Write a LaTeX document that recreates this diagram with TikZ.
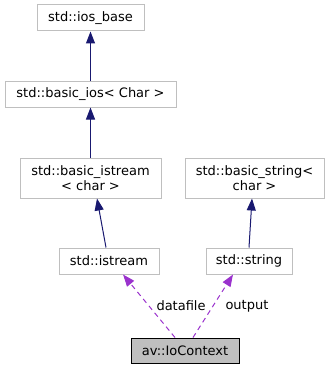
\documentclass[tikz,border=0pt]{standalone}
\usepackage{fontspec}
\setmainfont{DejaVu Sans}
\usetikzlibrary{arrows.meta}
\definecolor{edgeblue}{HTML}{191970}
\definecolor{edgepurple}{HTML}{9A32CD}
\definecolor{boxgray}{HTML}{BFBFBF}
\tikzset{txt/.style={font=\fontsize{13}{15}\selectfont}}
\begin{document}
\begin{tikzpicture}[x=1pt,y=-1pt,
  cls/.style={draw=boxgray, line width=1pt, fill=white, inner sep=0pt, align=center, txt},
  focus/.style={draw=black, line width=1pt, fill=boxgray, inner sep=0pt, align=center, txt},
  inherit/.style={draw=edgeblue, line width=1pt, -{Triangle[length=12pt,width=9pt]}},
  member/.style={draw=edgepurple, line width=1pt, dash pattern=on 5pt off 4pt, -{Triangle[length=12pt,width=9pt]}},
  lbl/.style={txt, inner sep=1pt}]
\useasboundingbox (0,0) rectangle (329,369);
% class boxes
\node[cls, minimum width=107pt, minimum height=26pt] (iosbase) at (90.5,18) {std::ios\_base};
\node[cls, minimum width=171pt, minimum height=26pt] (basicios) at (90.5,94) {std::basic\_ios< Char >};
\node[cls, minimum width=141pt, minimum height=40pt] (bistream) at (90.5,178) {std::basic\_istream\\< char >};
\node[cls, minimum width=139pt, minimum height=40pt] (bstring) at (254.5,178) {std::basic\_string<\\char >};
\node[cls, minimum width=100pt, minimum height=26pt] (istream) at (109,261) {std::istream};
\node[cls, minimum width=86pt, minimum height=26pt] (string) at (249,261) {std::string};
\node[focus, minimum width=108pt, minimum height=25pt] (ctx) at (185,350.5) {av::IoContext};
% inheritance
\draw[inherit] (basicios.north -| iosbase) -- (iosbase.south);
\draw[inherit] (bistream.north -| iosbase) -- (basicios.south);
\draw[inherit] ([xshift=-3pt]istream.north) -- ([xshift=6.5pt]bistream.south);
\draw[inherit] (string.north) -- ([xshift=-2.5pt]bstring.south);
% members
\draw[member] ([xshift=-10pt]ctx.north) -- node[lbl, right, pos=0.5, xshift=6pt] {datafile} ([xshift=14pt]istream.south);
\draw[member] ([xshift=8pt]ctx.north) -- node[lbl, right, pos=0.5, xshift=11pt] {output} ([xshift=-16pt]string.south);
\end{tikzpicture}
\end{document}
